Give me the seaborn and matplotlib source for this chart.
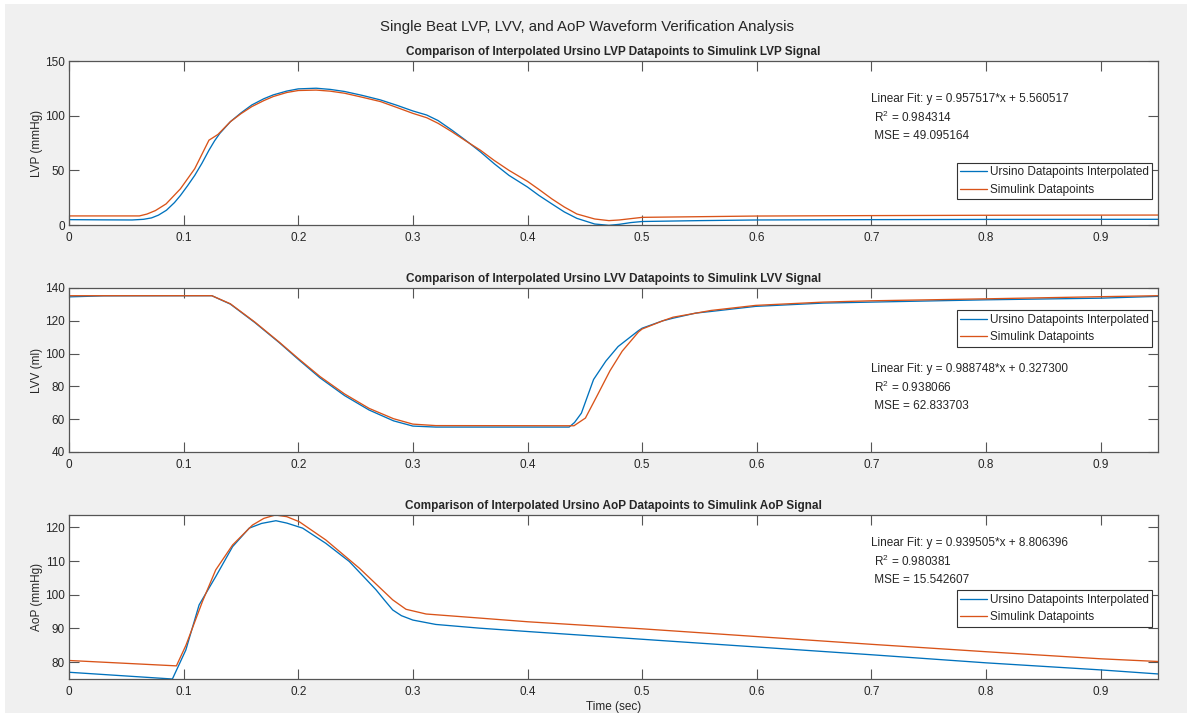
import matplotlib
matplotlib.use("Agg")
import matplotlib.pyplot as plt
import seaborn as sns
import pandas as pd
from matplotlib.patches import Rectangle

# ---------------- data ----------------
lvp_u_t = [0, 0.03, 0.055, 0.065, 0.072, 0.078, 0.085, 0.092, 0.0972, 0.1035, 0.1097, 0.116,
           0.1221, 0.127, 0.1315, 0.1408, 0.15, 0.1595, 0.17, 0.1782, 0.19, 0.2, 0.2156, 0.228,
           0.2405, 0.256, 0.2717, 0.286, 0.30, 0.312, 0.322, 0.334, 0.346, 0.3589, 0.371, 0.3838,
           0.40, 0.41, 0.4212, 0.432, 0.443, 0.4586, 0.471, 0.48, 0.49, 0.5, 0.55, 0.6, 0.7, 0.8, 0.95]
lvp_u_v = [4.9, 4.7, 4.6, 5.2, 6.5, 9.0, 13.5, 20.5, 27.0, 36.0, 45.4, 56.5,
           68.4, 77.0, 83.7, 94.5, 102.5, 109.8, 115.5, 119.0, 122.5, 124.5, 125.1, 124.0,
           122.1, 118.5, 114.4, 109.5, 104.3, 100.6, 95.5, 86.8, 77.5, 66.9, 56.0, 45.4,
           34.7, 27.0, 19.3, 12.0, 6.1, 0.9, -0.3, 0.6, 2.2, 3.2, 4.0, 4.6, 4.9, 5.1, 5.2]

lvp_s_t = [0, 0.0614, 0.068, 0.0754, 0.0847, 0.0972, 0.1097, 0.1221, 0.125, 0.1299, 0.1408, 0.15,
           0.1595, 0.17, 0.1782, 0.19, 0.2, 0.2156, 0.228, 0.2405, 0.256, 0.2717, 0.286, 0.30,
           0.3121, 0.322, 0.334, 0.346, 0.3589, 0.371, 0.3838, 0.40, 0.41, 0.4212, 0.432, 0.443,
           0.4586, 0.471, 0.48, 0.49, 0.5, 0.6, 0.7, 0.8, 0.95]
lvp_s_v = [8.3, 8.3, 10.0, 13.2, 19.3, 33.1, 51.5, 77.6, 79.5, 82.8, 94.5, 101.8,
           108.3, 113.8, 117.5, 121.2, 123.0, 123.4, 122.4, 120.5, 116.8, 112.9, 107.5, 102.1,
           98.1, 93.0, 85.3, 77.0, 68.4, 59.0, 50.0, 39.9, 32.5, 23.9, 16.5, 10.1,
           5.5, 4.0, 4.6, 5.8, 7.0, 8.2, 8.6, 8.9, 9.1]

lvv_u_t = [0, 0.03, 0.1246, 0.1407, 0.162, 0.1834, 0.2, 0.219, 0.2404, 0.2618, 0.2831, 0.30, 0.32,
           0.4363, 0.441, 0.447, 0.4576, 0.4683, 0.479, 0.4968, 0.5, 0.518, 0.527, 0.5467, 0.56,
           0.599, 0.658, 0.70, 0.80, 0.90, 0.95]
lvv_u_v = [134.6, 135.2, 135.3, 130.2, 119.0, 106.7, 96.5, 85.2, 74.4, 65.6, 59.0, 55.8, 55.2,
           55.2, 58.0, 63.7, 84.2, 95.4, 104.3, 114.0, 115.5, 120.0, 121.6, 124.7, 125.7,
           128.8, 130.8, 131.4, 132.8, 133.8, 134.9]

lvv_s_t = [0, 0.1246, 0.1407, 0.162, 0.1834, 0.2, 0.219, 0.2404, 0.2618, 0.2831, 0.30, 0.32,
           0.4405, 0.4505, 0.4612, 0.4719, 0.4826, 0.4968, 0.5, 0.518, 0.527, 0.56, 0.599, 0.658,
           0.70, 0.80, 0.90, 0.95]
lvv_s_v = [135.3, 135.3, 130.4, 119.3, 107.0, 97.0, 86.0, 75.4, 66.6, 60.3, 57.0, 56.1,
           56.0, 60.7, 75.0, 89.5, 101.5, 113.2, 115.0, 120.0, 122.2, 126.3, 129.4, 131.4,
           132.2, 133.4, 134.7, 135.3]

aop_u_t = [0, 0.0902, 0.1019, 0.1135, 0.128, 0.1427, 0.1572, 0.168, 0.1805, 0.19, 0.2038, 0.224,
           0.2445, 0.2678, 0.275, 0.2824, 0.29, 0.30, 0.32, 0.358, 0.4, 0.5, 0.6, 0.7, 0.8, 0.9, 0.95]
aop_u_v = [77.0, 75.0, 83.6, 97.0, 105.4, 114.3, 119.8, 121.2, 122.0, 121.3, 119.8, 115.3,
           109.9, 101.5, 98.5, 95.5, 93.8, 92.5, 91.2, 90.1, 89.1, 86.8, 84.5, 82.2, 79.8, 77.7, 76.5]

aop_s_t = [0, 0.0937, 0.102, 0.1164, 0.128, 0.1427, 0.160, 0.170, 0.180, 0.19, 0.2009, 0.224,
           0.2533, 0.2824, 0.294, 0.3115, 0.358, 0.4, 0.5, 0.6, 0.7, 0.8, 0.9, 0.95]
aop_s_v = [80.5, 78.9, 85.0, 98.0, 107.4, 114.8, 120.7, 122.7, 123.7, 123.2, 121.7, 116.3,
           107.9, 98.5, 95.7, 94.3, 93.1, 92.0, 89.9, 87.6, 85.3, 83.1, 81.0, 80.2]

series_labels = ["Ursino Datapoints Interpolated", "Simulink Datapoints"]
x_ticks = [0, 0.1, 0.2, 0.3, 0.4, 0.5, 0.6, 0.7, 0.8, 0.9]
x_tick_labels = ["0", "0.1", "0.2", "0.3", "0.4", "0.5", "0.6", "0.7", "0.8", "0.9"]

panels = [
    dict(title="Comparison of Interpolated Ursino LVP Datapoints to Simulink LVP Signal",
         ylabel="LVP (mmHg)", ylim=(0, 150), yticks=[0, 50, 100, 150],
         u=(lvp_u_t, lvp_u_v), s=(lvp_s_t, lvp_s_v),
         fit=["Linear Fit: y = 0.957517*x + 5.560517", " R$^2$ = 0.984314", " MSE = 49.095164"],
         fit_y=0.768, leg_y=0.157),
    dict(title="Comparison of Interpolated Ursino LVV Datapoints to Simulink LVV Signal",
         ylabel="LVV (ml)", ylim=(40, 140), yticks=[40, 60, 80, 100, 120, 140],
         u=(lvv_u_t, lvv_u_v), s=(lvv_s_t, lvv_s_v),
         fit=["Linear Fit: y = 0.988748*x + 0.327300", " R$^2$ = 0.938066", " MSE = 62.833703"],
         fit_y=0.504, leg_y=0.642),
    dict(title="Comparison of Interpolated Ursino AoP Datapoints to Simulink AoP Signal",
         ylabel="AoP (mmHg)", ylim=(75.0, 123.7), yticks=[80, 90, 100, 110, 120],
         u=(aop_u_t, aop_u_v), s=(aop_s_t, aop_s_v),
         fit=["Linear Fit: y = 0.939505*x + 8.806396", " R$^2$ = 0.980381", " MSE = 15.542607"],
         fit_y=0.827, leg_y=0.319),
]

# ---------------- style ----------------
sns.set_theme(style="white")
plt.rcParams['font.family'] = ['Liberation Sans', 'DejaVu Sans']
plt.rcParams.update({
    'mathtext.fontset': 'custom',
    'mathtext.rm': 'Liberation Sans',
    'mathtext.it': 'Liberation Sans:italic',
    'mathtext.default': 'regular',
})

BLUE = "#0072BD"
ORANGE = "#D95319"
BG = "#f0f0f0"
SPINE = "#555555"
TXT = "#262626"
FS = 8.5

W, H = 1187, 713
fig = plt.figure(figsize=(W / 100, H / 100), dpi=100, facecolor=BG)
# thin white screenshot border on top and left
fig.add_artist(Rectangle((0, 1 - 4 / H), 1, 4 / H, transform=fig.transFigure,
                         facecolor="white", edgecolor="none", zorder=-1))
fig.add_artist(Rectangle((0, 0), 5 / W, 1, transform=fig.transFigure,
                         facecolor="white", edgecolor="none", zorder=-1))

ax_left, ax_right = 69, 1158
ax_tops = [61, 288, 515]
ax_h = 164

fig.text(587 / W, 1 - 27 / H,
         "Single Beat LVP, LVV, and AoP Waveform Verification Analysis",
         ha="center", va="center", fontsize=10.8, color=TXT)

for i, p in enumerate(panels):
    top = ax_tops[i]
    ax = fig.add_axes([ax_left / W, 1 - (top + ax_h) / H, (ax_right - ax_left) / W, ax_h / H])
    ax.set_facecolor("white")

    df_u = pd.DataFrame({"t": p["u"][0], "v": p["u"][1]})
    df_s = pd.DataFrame({"t": p["s"][0], "v": p["s"][1]})
    sns.lineplot(data=df_u, x="t", y="v", ax=ax, color=BLUE, lw=0.95,
                 label=series_labels[0], estimator=None, sort=False)
    sns.lineplot(data=df_s, x="t", y="v", ax=ax, color=ORANGE, lw=0.95,
                 label=series_labels[1], estimator=None, sort=False)

    ax.set_xlim(0, 0.95)
    ax.set_ylim(*p["ylim"])
    ax.set_xticks(x_ticks)
    ax.set_xticklabels(x_tick_labels)
    ax.set_yticks(p["yticks"])
    ax.tick_params(direction="in", length=7, width=0.8, color=SPINE, labelcolor=TXT,
                   labelsize=FS, top=True, right=True, bottom=True, left=True)
    ax.tick_params(axis="x", pad=5)
    ax.tick_params(axis="y", pad=3)
    for sp in ax.spines.values():
        sp.set_color(SPINE)
        sp.set_linewidth(0.9)
        sp.set_visible(True)

    ax.set_title(p["title"], fontsize=FS, fontweight="bold", color=TXT, pad=4)
    ax.set_ylabel(p["ylabel"], fontsize=FS, color=TXT)
    ax.yaxis.set_label_coords(-26 / (ax_right - ax_left), 0.5)
    if i == 2:
        ax.set_xlabel("Time (sec)", fontsize=FS, color=TXT)
        ax.xaxis.set_label_coords(0.5, -22 / ax_h)
    else:
        ax.set_xlabel("")

    trans = ax.get_xaxis_transform()
    for k, line in enumerate(p["fit"]):
        ax.text(0.70, p["fit_y"] - k * 18.5 / ax_h, line, transform=trans,
                ha="left", va="center", fontsize=FS, color=TXT)

    leg = ax.legend(loc="lower right", bbox_to_anchor=(0.9945, p["leg_y"]),
                    fontsize=FS, frameon=True, fancybox=False, framealpha=1,
                    edgecolor="#333333", borderaxespad=0, borderpad=0.3,
                    handlelength=2.3, handletextpad=0.2, labelspacing=0.45)
    leg.get_frame().set_linewidth(0.8)
    for t in leg.get_texts():
        t.set_color(TXT)

fig.savefig("out.png", dpi=100, facecolor=fig.get_facecolor())
